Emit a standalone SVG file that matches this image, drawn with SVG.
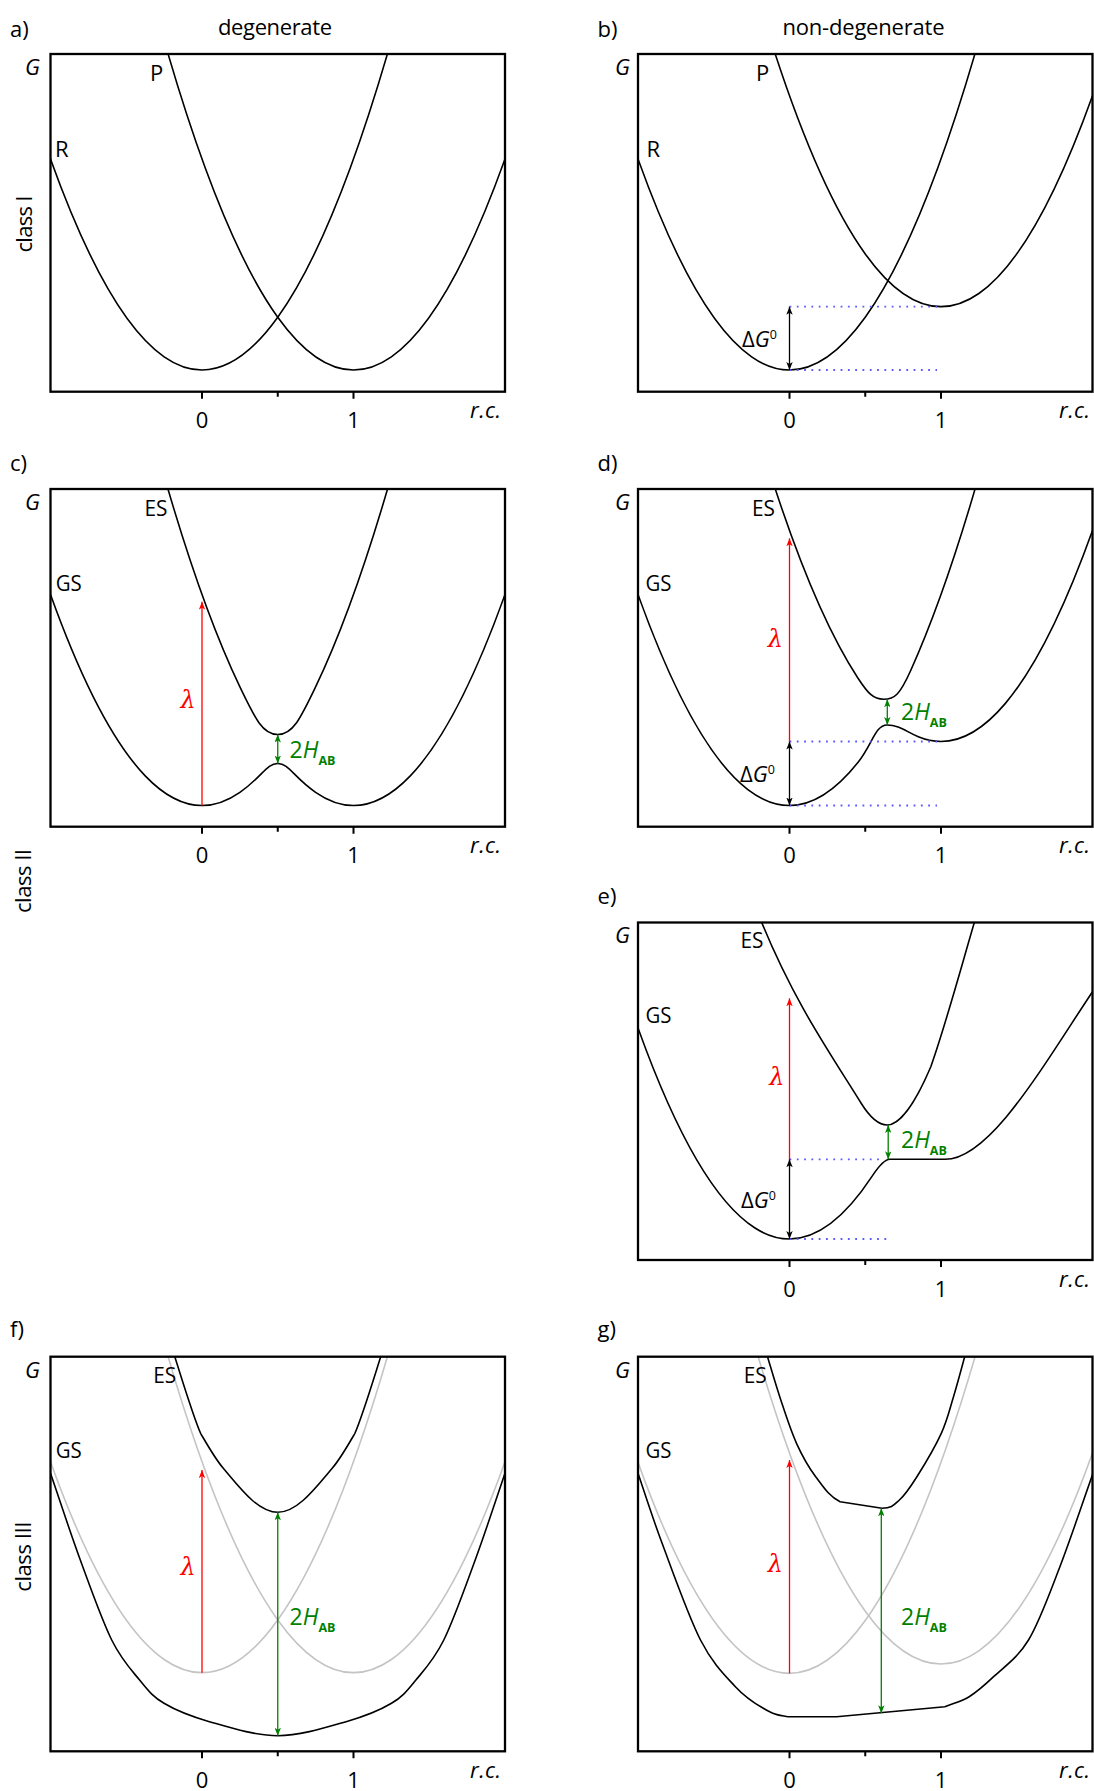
<svg xmlns="http://www.w3.org/2000/svg" width="1094" height="1791" viewBox="0 0 1094 1791">
<style>
.bg{fill:#fff}
.box{fill:none;stroke:#000;stroke-width:2.3}
.cv{fill:none;stroke:#000;stroke-width:1.6;stroke-linejoin:round}
.gr{fill:none;stroke:#c4c4c4;stroke-width:1.6}
.dot{fill:none;stroke:#5a5aff;stroke-width:1.8;stroke-dasharray:1.8 5.5}
.tk{stroke:#000;stroke-width:2}
.t{font-family:"Open Sans","Liberation Sans",sans-serif;font-size:22px;fill:#000}
.num{font-family:"Open Sans","Liberation Sans",sans-serif;font-size:22px;fill:#000;text-anchor:middle}
.it{font-style:italic}
.lam{font-family:"DejaVu Serif","Liberation Serif",serif;font-style:italic;font-size:24px;fill:#f00}
.grn{fill:#008000;font-size:23px}
.sub{font-size:12.5px;font-weight:bold}
.ak{fill:none;stroke:#000;stroke-width:1.3}
.ar{fill:none;stroke:#f00;stroke-width:1.3}
.ag{fill:none;stroke:#008000;stroke-width:1.3}
</style>
<defs>
<marker id="mk" viewBox="0 0 10 8" refX="10" refY="4" markerWidth="8" markerHeight="6.4" markerUnits="userSpaceOnUse" orient="auto-start-reverse"><path d="M0,0 L10,4 L0,8 L2.5,4 z" fill="#000"/></marker>
<marker id="mr" viewBox="0 0 10 8" refX="10" refY="4" markerWidth="8" markerHeight="6.4" markerUnits="userSpaceOnUse" orient="auto-start-reverse"><path d="M0,0 L10,4 L0,8 L2.5,4 z" fill="#f00"/></marker>
<marker id="mg" viewBox="0 0 10 8" refX="10" refY="4" markerWidth="8" markerHeight="6.4" markerUnits="userSpaceOnUse" orient="auto-start-reverse"><path d="M0,0 L10,4 L0,8 L2.5,4 z" fill="#008000"/></marker>
<clipPath id="cA"><rect x="50.5" y="54" width="454.5" height="337.7"/></clipPath>
<clipPath id="cB"><rect x="638" y="54" width="454.5" height="337.7"/></clipPath>
<clipPath id="cC"><rect x="50.5" y="489" width="454.5" height="337.7"/></clipPath>
<clipPath id="cD"><rect x="638" y="489" width="454.5" height="337.7"/></clipPath>
<clipPath id="cE"><rect x="638" y="922.5" width="454.5" height="337.5"/></clipPath>
<clipPath id="cF"><rect x="50.5" y="1356.7" width="454.5" height="394.6"/></clipPath>
<clipPath id="cG"><rect x="638" y="1356.7" width="454.5" height="394.6"/></clipPath>
</defs>
<rect class="bg" x="0" y="0" width="1094" height="1791"/>

<g id="titles">
<text class="t" x="218" y="35" textLength="114">degenerate</text>
<text class="t" x="782.5" y="35" textLength="162">non-degenerate</text>
<text class="t" transform="translate(31.5,224) rotate(-90)" text-anchor="middle" textLength="57">class I</text>
<text class="t" transform="translate(30.5,881) rotate(-90)" text-anchor="middle" textLength="64">class II</text>
<text class="t" transform="translate(31,1556.7) rotate(-90)" text-anchor="middle" textLength="70">class III</text>
</g>

<g id="panel-a">
<g clip-path="url(#cA)">
<path class="cv" d="M50.5,159 Q277.75,792 505,-474"/>
<path class="cv" d="M50.5,-474 Q277.75,792 505,159"/>
</g>
<rect class="box" x="50.5" y="54" width="454.5" height="337.7"/>
<path class="tk" d="M202,391.7v7M277.75,391.7v5M353.5,391.7v7"/>
<text class="t" x="10" y="36.5">a)</text>
<text class="t it" x="25" y="75">G</text>
<text class="t" x="150" y="80.7">P</text>
<text class="t" x="55" y="157.3">R</text>
<text class="num" x="202" y="428.3">0</text>
<text class="num" x="353.5" y="428.3">1</text>
<text class="t it" x="470" y="418.3" textLength="31">r.c.</text>
</g>

<g id="panel-b">
<g clip-path="url(#cB)">
<path class="cv" d="M638,159 Q865.25,792 1092.5,-474"/>
<path class="cv" d="M638,-537.3 Q865.25,728.7 1092.5,95.7"/>
</g>
<rect class="box" x="638" y="54" width="454.5" height="337.7"/>
<path class="tk" d="M789.5,391.7v7M865.25,391.7v5M941,391.7v7"/>
<text class="t" x="597.6" y="36.5">b)</text>
<text class="t it" x="615" y="75">G</text>
<text class="t" x="756" y="80.7">P</text>
<text class="t" x="646.4" y="157.3">R</text>
<text class="t" x="742" y="346.7">Δ<tspan class="it">G</tspan><tspan font-size="12.5" dy="-8">0</tspan></text>
<text class="num" x="789.5" y="428.3">0</text>
<text class="num" x="941" y="428.3">1</text>
<text class="t it" x="1059" y="418.3" textLength="31">r.c.</text>
</g>

<g id="panel-c">
<g clip-path="url(#cC)">
<path class="cv" d="M50.5,594.5 Q145.2,858.3 239.9,792.3 C262.6,776.5 266.4,763.5 277.75,763.5 C289.1,763.5 292.9,776.5 315.6,792.3 Q410.3,858.3 505,594.5"/>
<path class="cv" d="M150,424.8 Q194.95,593 239.9,686.9 C255,718.4 262.6,734.5 277.75,734.5 C292.9,734.5 300.5,718.4 315.6,686.9 Q360.55,593 405.5,424.8"/>
</g>
<rect class="box" x="50.5" y="489" width="454.5" height="337.7"/>
<path class="tk" d="M202,826.7v7M277.75,826.7v5M353.5,826.7v7"/>
<text class="t" x="10" y="471">c)</text>
<text class="t it" x="25" y="510">G</text>
<text class="t" x="144.5" y="516" textLength="23" lengthAdjust="spacingAndGlyphs">ES</text>
<text class="t" x="55.8" y="591" textLength="26" lengthAdjust="spacingAndGlyphs">GS</text>
<text class="lam" x="180.5" y="708.3">λ</text>
<text class="t grn" x="289.6" y="758.3">2<tspan class="it">H</tspan><tspan class="sub" dy="6.7">AB</tspan></text>
<text class="num" x="202" y="863.3">0</text>
<text class="num" x="353.5" y="863.3">1</text>
<text class="t it" x="470" y="853.3" textLength="31">r.c.</text>
</g>

<g id="panel-d">
<g clip-path="url(#cD)">
<path class="cv" d="M638,594.5 Q747.85,900.5 857.7,762.8 C872.35,744.4 875.3,725 887,725 C899.5,725 905.8,731.5 918.3,736.75 Q1005.4,773.1 1092.5,530.5"/>
<path class="cv" d="M760,440.3 Q808.85,602.9 857.7,677.7 C868.1,693.6 873.3,699.3 883.7,699.3 C894.5,699.3 899.9,694.6 910.7,670.5 Q955.35,571 1000,398.2"/>
</g>
<rect class="box" x="638" y="489" width="454.5" height="337.7"/>
<path class="tk" d="M789.5,826.7v7M865.25,826.7v5M941,826.7v7"/>
<text class="t" x="597.6" y="471">d)</text>
<text class="t it" x="615" y="510">G</text>
<text class="t" x="752" y="516" textLength="23" lengthAdjust="spacingAndGlyphs">ES</text>
<text class="t" x="645.4" y="591" textLength="26" lengthAdjust="spacingAndGlyphs">GS</text>
<text class="lam" x="767.8" y="646.7">λ</text>
<text class="t" x="740" y="781.7">Δ<tspan class="it">G</tspan><tspan font-size="12.5" dy="-8">0</tspan></text>
<text class="t grn" x="901" y="720">2<tspan class="it">H</tspan><tspan class="sub" dy="6.7">AB</tspan></text>
<text class="num" x="789.5" y="863.3">0</text>
<text class="num" x="941" y="863.3">1</text>
<text class="t it" x="1059" y="853.3" textLength="31">r.c.</text>
</g>

<g id="panel-e">
<g clip-path="url(#cE)">
<path class="cv" d="M638,1028 Q755,1353.9 872,1176.4 C878,1167.3 884,1159.3 890,1159.3 L945,1159.3 C990,1159.3 1042.5,1066.7 1092.5,991.7"/>
<path class="cv" d="M754.6,905.3 L761.6,922.3 C794.6,1002.5 828,1049.9 861,1103 C870,1117.5 878.2,1125 887.2,1125 C896,1125 910.8,1113.7 930.8,1066.7 C944.8,1027.5 960.4,969.9 974.4,922.3 L979.2,906"/>
</g>
<rect class="box" x="638" y="922.5" width="454.5" height="337.5"/>
<path class="tk" d="M789.5,1260v7M865.25,1260v5M941,1260v7"/>
<text class="t" x="597.6" y="903.5">e)</text>
<text class="t it" x="615" y="943">G</text>
<text class="t" x="740.4" y="948.3" textLength="23" lengthAdjust="spacingAndGlyphs">ES</text>
<text class="t" x="645.4" y="1023.3" textLength="26" lengthAdjust="spacingAndGlyphs">GS</text>
<text class="lam" x="769.2" y="1085">λ</text>
<text class="t" x="741" y="1208.3">Δ<tspan class="it">G</tspan><tspan font-size="12.5" dy="-8">0</tspan></text>
<text class="t grn" x="901" y="1148.3">2<tspan class="it">H</tspan><tspan class="sub" dy="6.7">AB</tspan></text>
<text class="num" x="789.5" y="1296.6">0</text>
<text class="num" x="941" y="1296.6">1</text>
<text class="t it" x="1059" y="1286.6" textLength="31">r.c.</text>
</g>

<g id="panel-f">
<g clip-path="url(#cF)">
<path class="gr" d="M50.5,1461.7 Q277.75,2094.7 505,828.7"/>
<path class="gr" d="M50.5,828.7 Q277.75,2094.7 505,1461.7"/>
<path class="cv" d="M172.6,1350 C178.5,1367.6 192,1413.5 200.6,1433.3 C208,1446 215,1458.5 223.3,1468.3 C240,1488 258,1512.3 277.75,1512.3 C297.5,1512.3 315.5,1488 332.2,1468.3 C340.5,1458.5 347.5,1446 354.9,1433.3 C363.5,1413.5 377,1367.6 382.9,1350"/>
<path class="cv" d="M50.5,1473.3 C60.4,1502.2 70.1,1532.2 80.3,1560 C90.5,1587.8 101.8,1620 111.7,1640 C121.6,1660 130.9,1669.45 139.6,1680 C148.3,1690.55 152.4,1696.35 164,1703.3 C175.6,1710.25 190.5,1716.3 209.4,1721.7 C228.3,1727.1 255,1735.7 277.75,1735.7 C300.5,1735.7 327.2,1727.1 346.1,1721.7 C365,1716.3 379.9,1710.25 391.5,1703.3 C403.1,1696.35 407.2,1690.55 415.9,1680 C424.6,1669.45 433.9,1660 443.8,1640 C453.7,1620 465,1587.8 475.2,1560 C485.4,1532.2 495.1,1502.2 505,1473.3"/>
</g>
<rect class="box" x="50.5" y="1356.7" width="454.5" height="394.6"/>
<path class="tk" d="M202,1751.3v7M277.75,1751.3v5M353.5,1751.3v7"/>
<text class="t" x="10" y="1337">f)</text>
<text class="t it" x="25" y="1378.3">G</text>
<text class="t" x="153.3" y="1383.3" textLength="23" lengthAdjust="spacingAndGlyphs">ES</text>
<text class="t" x="55.8" y="1458.3" textLength="26" lengthAdjust="spacingAndGlyphs">GS</text>
<text class="lam" x="180.5" y="1575">λ</text>
<text class="t grn" x="289.6" y="1625">2<tspan class="it">H</tspan><tspan class="sub" dy="6.7">AB</tspan></text>
<text class="num" x="202" y="1787.5">0</text>
<text class="num" x="353.5" y="1787.5">1</text>
<text class="t it" x="470" y="1777.5" textLength="31">r.c.</text>
</g>

<g id="panel-g">
<g clip-path="url(#cG)">
<path class="gr" d="M638,1462.3 Q865.25,2095.3 1092.5,829.3"/>
<path class="gr" d="M638,820 Q865.25,2086 1092.5,1453"/>
<path class="cv" d="M763.2,1342.7 L767.5,1356.7 C770.4,1366.25 776,1385.6 780.8,1400 C785.6,1414.4 790.7,1430.5 796.5,1443.3 C802.3,1456.1 808.4,1467 815.7,1476.7 C823,1486.4 829.05,1496.4 840.1,1501.7 L882,1508.3 C891.9,1508 893.6,1505.3 899.4,1500 C905.2,1494.7 909.9,1487.8 916.9,1476.7 C923.9,1465.6 935.2,1446.6 941.3,1433.3 C947.4,1420 949.6,1409.5 953.5,1396.7 C957.4,1383.9 962.2,1365.65 964.7,1356.7 L968.5,1343"/>
<path class="cv" d="M638,1473.3 C643.35,1488.8 651.7,1515.5 662.1,1543.3 C672.5,1571.1 688.3,1616.1 700.5,1640 C712.7,1663.9 724.9,1675.3 735.4,1686.7 C745.9,1698.1 754.6,1703.3 763.3,1708.3 C772,1713.3 775.6,1715.3 787.8,1716.7 L836.6,1716.7 L944.8,1706.7 C952.9,1703.4 961.1,1701.7 969.2,1696.7 C977.3,1691.7 983.7,1686.15 993.6,1676.7 C1003.5,1667.25 1017.45,1658.3 1028.5,1640 C1039.55,1621.7 1049.15,1594.5 1059.9,1566.7 C1070.65,1538.9 1082,1504.4 1093,1473.3"/>
</g>
<rect class="box" x="638" y="1356.7" width="454.5" height="394.6"/>
<path class="tk" d="M789.5,1751.3v7M865.25,1751.3v5M941,1751.3v7"/>
<text class="t" x="597.6" y="1337">g)</text>
<text class="t it" x="615" y="1378.3">G</text>
<text class="t" x="743.8" y="1383.3" textLength="23" lengthAdjust="spacingAndGlyphs">ES</text>
<text class="t" x="645.4" y="1458.3" textLength="26" lengthAdjust="spacingAndGlyphs">GS</text>
<text class="lam" x="767.8" y="1571.7">λ</text>
<text class="t grn" x="901" y="1625">2<tspan class="it">H</tspan><tspan class="sub" dy="6.7">AB</tspan></text>
<text class="num" x="789.5" y="1787.5">0</text>
<text class="num" x="941" y="1787.5">1</text>
<text class="t it" x="1059" y="1777.5" textLength="31">r.c.</text>
</g>

<g id="connectors">
<path class="dot" d="M789.5,306.7H937M789.5,370H937"/>
<path class="dot" d="M789.5,741.5H937M789.5,805.5H937"/>
<path class="dot" d="M789.5,1159.3H883.7M789.5,1239H888"/>
<path class="ak" d="M789.5,370V306.7" marker-start="url(#mk)" marker-end="url(#mk)"/>
<path class="ar" d="M202,805.5V601.7" marker-end="url(#mr)"/>
<path class="ag" d="M277.75,763.5V734.5" marker-start="url(#mg)" marker-end="url(#mg)"/>
<path class="ar" d="M789.5,741.5V538.3" marker-end="url(#mr)"/>
<path class="ak" d="M789.5,805.5V741.5" marker-start="url(#mk)" marker-end="url(#mk)"/>
<path class="ag" d="M887.3,725V699.3" marker-start="url(#mg)" marker-end="url(#mg)"/>
<path class="ar" d="M789.5,1159.3V998.3" marker-end="url(#mr)"/>
<path class="ak" d="M789.5,1239V1159.3" marker-start="url(#mk)" marker-end="url(#mk)"/>
<path class="ag" d="M888.2,1159.3V1125" marker-start="url(#mg)" marker-end="url(#mg)"/>
<path class="ar" d="M202,1672.7V1470" marker-end="url(#mr)"/>
<path class="ag" d="M277.75,1735.7V1512.3" marker-start="url(#mg)" marker-end="url(#mg)"/>
<path class="ar" d="M789.5,1673.3V1460" marker-end="url(#mr)"/>
<path class="ag" d="M881.3,1713.3V1508.3" marker-start="url(#mg)" marker-end="url(#mg)"/>
</g>
</svg>
